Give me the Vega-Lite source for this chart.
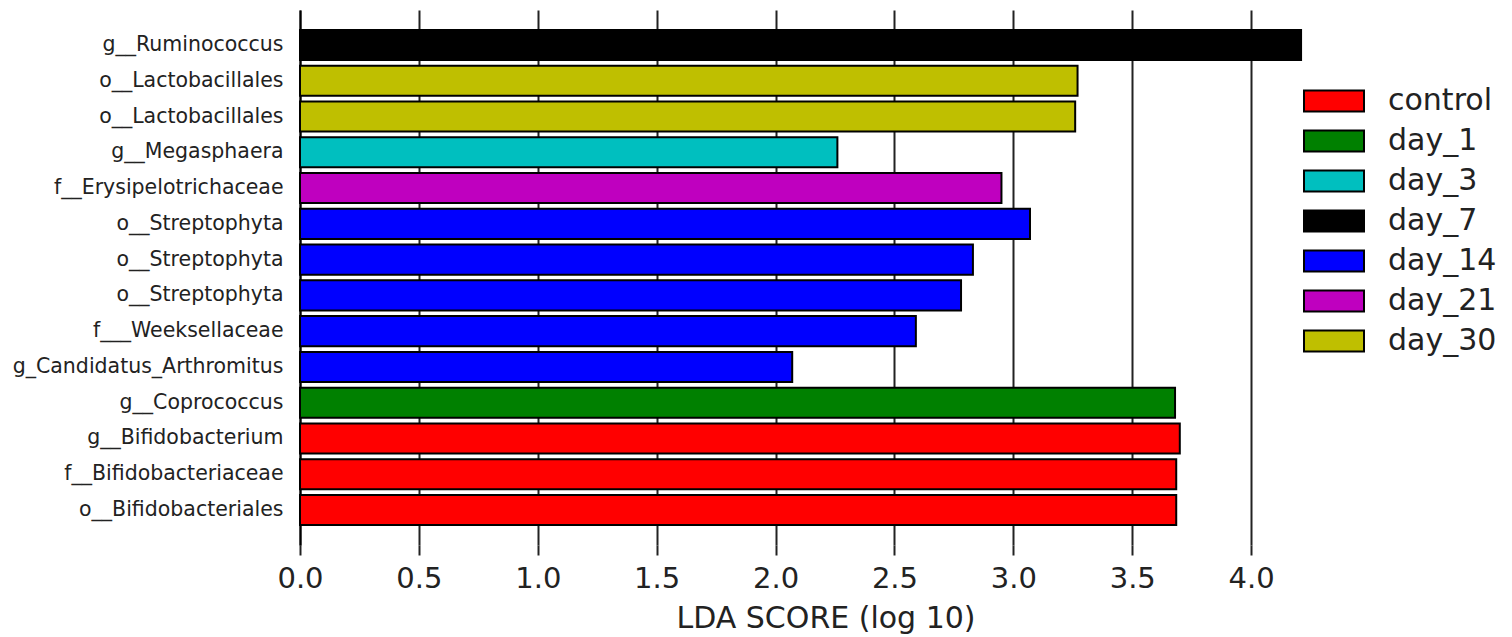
{
  "$schema": "https://vega.github.io/schema/vega-lite/v6.json",
  "width": 1051,
  "height": 535,
  "autosize": {"type": "none"},
  "padding": {"left": 300, "top": 10, "right": 161, "bottom": 92},
  "background": "white",
  "config": {
    "font": "DejaVu Sans",
    "view": {"stroke": null}
  },
  "data": {
    "values": [
      {"key": "g__Ruminococcus|1", "group": "day_7", "lda": 4.21},
      {"key": "o__Lactobacillales|2", "group": "day_30", "lda": 3.27},
      {"key": "o__Lactobacillales|3", "group": "day_30", "lda": 3.26},
      {"key": "g__Megasphaera|4", "group": "day_3", "lda": 2.26},
      {"key": "f__Erysipelotrichaceae|5", "group": "day_21", "lda": 2.95},
      {"key": "o__Streptophyta|6", "group": "day_14", "lda": 3.07},
      {"key": "o__Streptophyta|7", "group": "day_14", "lda": 2.83},
      {"key": "o__Streptophyta|8", "group": "day_14", "lda": 2.78},
      {"key": "f___Weeksellaceae|9", "group": "day_14", "lda": 2.59},
      {"key": "g_Candidatus_Arthromitus|10", "group": "day_14", "lda": 2.07},
      {"key": "g__Coprococcus|11", "group": "day_1", "lda": 3.68},
      {"key": "g__Bifidobacterium|12", "group": "control", "lda": 3.70},
      {"key": "f__Bifidobacteriaceae|13", "group": "control", "lda": 3.685},
      {"key": "o__Bifidobacteriales|14", "group": "control", "lda": 3.685}
    ]
  },
  "mark": {"type": "bar", "stroke": "black", "strokeWidth": 2},
  "encoding": {
    "y": {
      "field": "key",
      "type": "nominal",
      "sort": null,
      "scale": {"paddingInner": 0.16, "paddingOuter": 0.56},
      "axis": {
        "title": null,
        "labelExpr": "split(datum.value, '|')[0]",
        "labelFontSize": 20.5,
        "labelColor": "#222222",
        "labelPadding": 17,
        "labelLimit": 400,
        "ticks": false,
        "domainColor": "black",
        "domainWidth": 2
      }
    },
    "x": {
      "field": "lda",
      "type": "quantitative",
      "scale": {"domain": [0, 4.42], "nice": false, "zero": true},
      "axis": {
        "title": "LDA SCORE (log 10)",
        "titleFontSize": 30,
        "titleFontWeight": "normal",
        "titleColor": "#222222",
        "titlePadding": 10,
        "values": [0, 0.5, 1, 1.5, 2, 2.5, 3, 3.5, 4],
        "format": ".1f",
        "labelFontSize": 29,
        "labelFlush": false,
        "labelOverlap": false,
        "labelColor": "#222222",
        "labelPadding": 9,
        "tickSize": 10,
        "tickColor": "#222222",
        "tickWidth": 2,
        "domain": false,
        "grid": true,
        "gridColor": "#222222",
        "gridWidth": 2,
        "gridOpacity": 1
      }
    },
    "color": {
      "field": "group",
      "type": "nominal",
      "scale": {
        "domain": ["control", "day_1", "day_3", "day_7", "day_14", "day_21", "day_30"],
        "range": ["#ff0000", "#008000", "#00bfbf", "#000000", "#0000ff", "#bf00bf", "#bfbf00"]
      },
      "legend": {
        "title": null,
        "orient": "none",
        "legendX": 1018,
        "legendY": 75,
        "symbolType": "M-2,-0.7H2V0.7H-2Z",
        "symbolSize": 900,
        "symbolStrokeColor": "black",
        "symbolStrokeWidth": 2,
        "symbolOpacity": 1,
        "labelFontSize": 30,
        "labelColor": "#222222",
        "labelOffset": 38,
        "rowPadding": 9,
        "labelLimit": 300
      }
    }
  }
}
